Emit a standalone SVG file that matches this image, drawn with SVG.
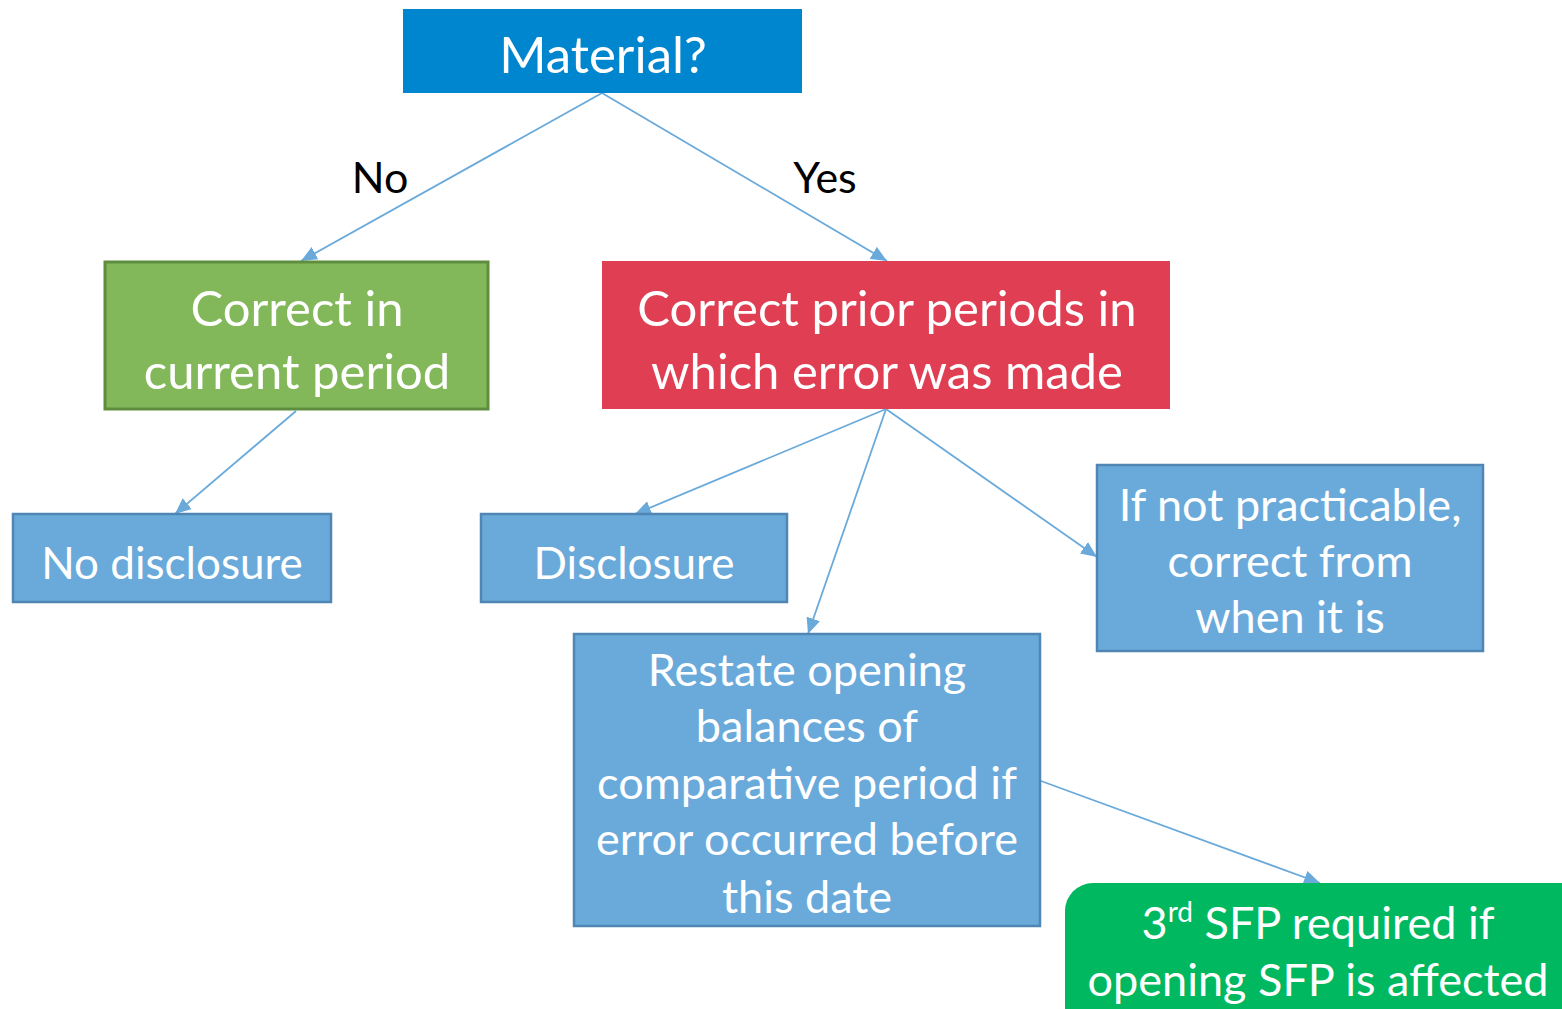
<svg xmlns="http://www.w3.org/2000/svg" width="1562" height="1009" viewBox="0 0 1562 1009">
<defs>
<marker id="arr" markerUnits="userSpaceOnUse" markerWidth="16" markerHeight="14" viewBox="0 0 16 14" refX="16" refY="7" orient="auto">
<path d="M0,0 L16,7 L0,14 Z" fill="#6AAADB"/>
</marker>
<style>
.t{font-family:Lato,"Open Sans","Liberation Sans",sans-serif;fill:#ffffff;text-anchor:middle}
.lbl{font-family:Lato,"Open Sans","Liberation Sans",sans-serif;fill:#000000;text-anchor:middle;font-size:43px}
.blue{fill:#6AAADB;stroke:#4F86B4;stroke-width:2.5}
.c{stroke:#6AAADB;stroke-width:1.8;fill:none;marker-end:url(#arr)}
</style>
</defs>
<rect width="1562" height="1009" fill="#ffffff"/>
<g id="connectors">
<line class="c" x1="602" y1="93" x2="301" y2="261"/>
<line class="c" x1="602" y1="93" x2="887" y2="261"/>
<line class="c" x1="296" y1="411" x2="175" y2="514"/>
<line class="c" x1="886" y1="409" x2="635" y2="514"/>
<line class="c" x1="886" y1="409" x2="808" y2="634"/>
<line class="c" x1="886" y1="409" x2="1097" y2="557"/>
<line class="c" x1="1041" y1="781" x2="1320" y2="883"/>
</g>
<g id="labels">
<text class="lbl" x="380" y="193">No</text>
<text class="lbl" x="825" y="193">Yes</text>
</g>
<g id="material">
<rect x="403" y="9" width="399" height="84" fill="#0085CF"/>
<text class="t" x="603" y="73" font-size="51">Material?</text>
</g>
<g id="correct-current">
<rect x="105" y="262" width="383" height="147" fill="#82B85A" stroke="#5E8E3D" stroke-width="3"/>
<text class="t" x="297" y="326" font-size="49">Correct in</text>
<text class="t" x="297" y="389" font-size="49">current period</text>
</g>
<g id="correct-prior">
<rect x="602" y="261" width="568" height="148" fill="#E03E52"/>
<text class="t" x="887" y="326" font-size="49">Correct prior periods in</text>
<text class="t" x="887" y="389" font-size="49">which error was made</text>
</g>
<g id="no-disclosure">
<rect class="blue" x="13" y="514" width="318" height="88"/>
<text class="t" x="172" y="579" font-size="44">No disclosure</text>
</g>
<g id="disclosure">
<rect class="blue" x="481" y="514" width="306" height="88"/>
<text class="t" x="634" y="579" font-size="44">Disclosure</text>
</g>
<g id="not-practicable">
<rect class="blue" x="1097" y="465" width="386" height="186"/>
<text class="t" x="1290" y="521" font-size="45">If not practicable,</text>
<text class="t" x="1290" y="577" font-size="45">correct from</text>
<text class="t" x="1290" y="633" font-size="45">when it is</text>
</g>
<g id="restate">
<rect class="blue" x="574" y="634" width="466" height="292"/>
<text class="t" x="807" y="686" font-size="45">Restate opening</text>
<text class="t" x="807" y="742" font-size="45">balances of</text>
<text class="t" x="807" y="799" font-size="45">comparative period if</text>
<text class="t" x="807" y="855" font-size="45">error occurred before</text>
<text class="t" x="807" y="913" font-size="45">this date</text>
</g>
<g id="third-sfp">
<rect x="1065" y="883" width="530" height="160" rx="28" fill="#00B860"/>
<text class="t" x="1318" y="939" font-size="45">3<tspan font-size="28" dy="-17">rd</tspan><tspan dy="17"> SFP required if</tspan></text>
<text class="t" x="1318" y="996" font-size="45">opening SFP is affected</text>
</g>
</svg>
